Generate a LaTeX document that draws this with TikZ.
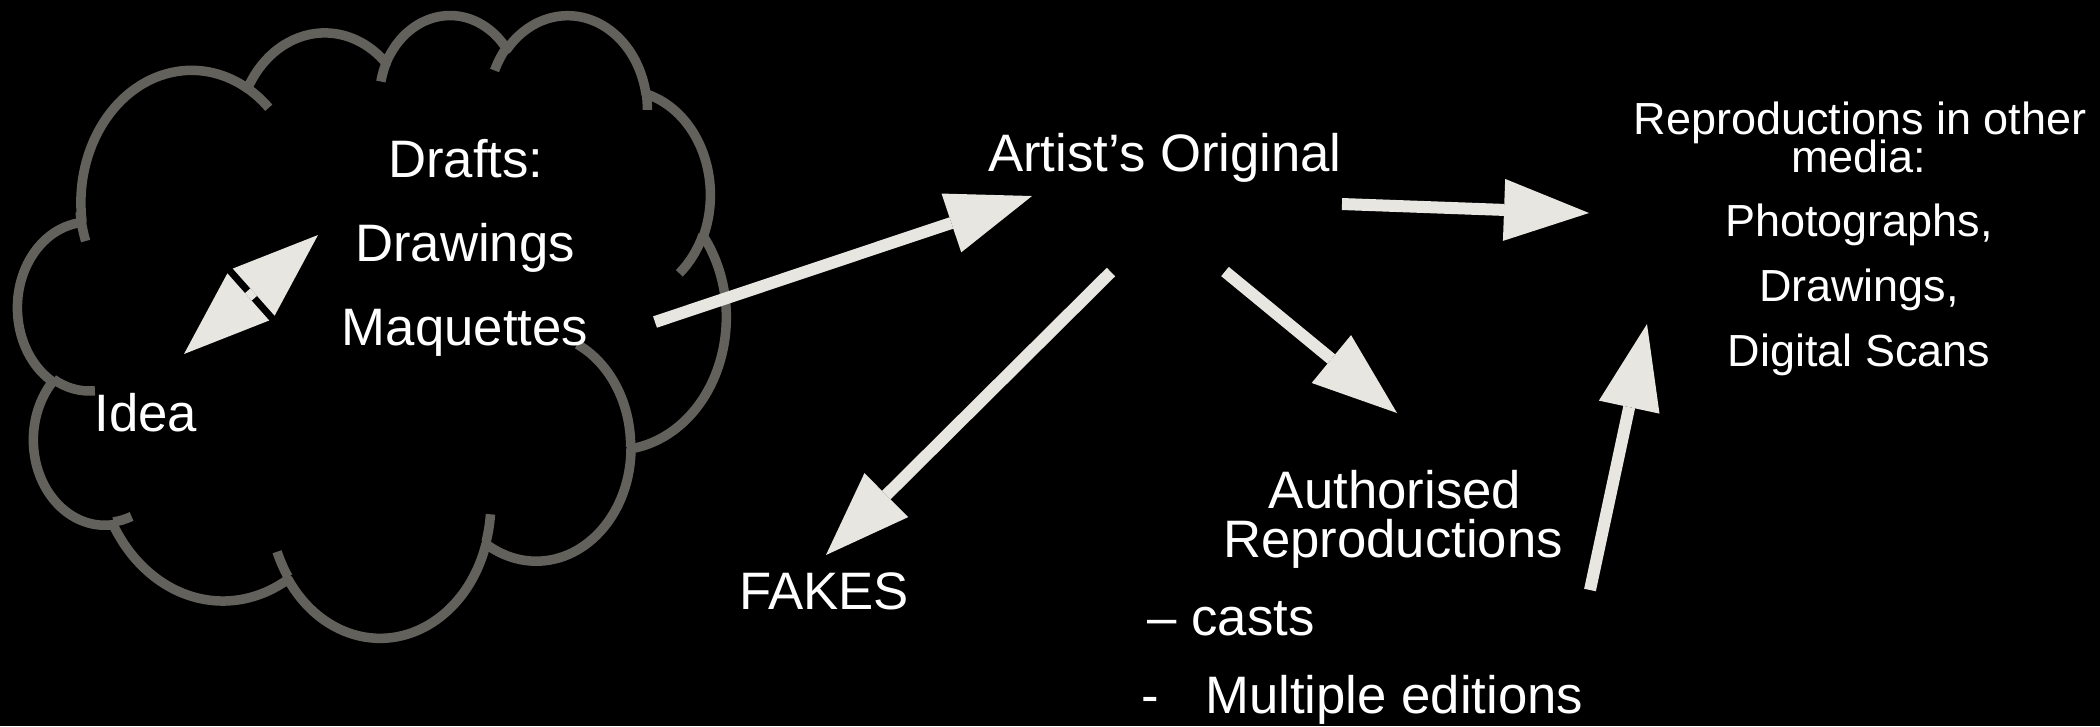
\documentclass[tikz,border=0pt]{standalone}
\usepackage{fontspec}
\setmainfont{Liberation Sans}
\usetikzlibrary{arrows.meta}

\definecolor{cloudgray}{RGB}{98,97,92}
\definecolor{arrowfill}{RGB}{232,230,224}

% one bump of the cloud: x radius, y radius, start angle, sweep
\newcommand{\cloudarc}[4]{arc[start angle={atan2(#1*sin(#3),#2*cos(#3))},
  end angle={atan2(#1*sin(#3),#2*cos(#3))+mod(atan2(#1*sin(#3+#4),#2*cos(#3+#4))-atan2(#1*sin(#3),#2*cos(#3))+720,360)},
  x radius=#1, y radius=#2]}

\begin{document}
\begin{tikzpicture}[
    every node/.style={
        text=white,
        inner sep=0pt,
        anchor=base,
        font=\fontsize{15}{18}\selectfont
    },
    small/.style={font=\fontsize{12.8}{15}\selectfont},
    cloudline/.style={draw=cloudgray, line width=0.095cm, line join=round},
    edge/.style={draw=arrowfill, line width=0.12cm,
        -{Triangle[length=0.85cm, width=0.62cm, line width=0pt]}},
    twoway/.style={draw=arrowfill, line width=0.10cm,
        {Triangle[length=0.86cm, width=0.63cm, line width=0pt]}-{Triangle[length=0.86cm, width=0.63cm, line width=0pt]}}
]

\fill[black] (0,0) rectangle (21,-7.26);
\useasboundingbox (0,0) rectangle (21,-7.26);

% cloud
\begin{scope}[shift={(0.18,-0.135)}, xscale=0.16389, yscale=-0.1441]
\draw[cloudline] (3.900,14.370)
    \cloudarc{6.753}{9.190}{-190.4875}{123.7805}
    \cloudarc{5.333}{7.267}{-144.1024}{89.9452}
    \cloudarc{4.365}{5.945}{-145.8079}{99.7230}
    \cloudarc{4.857}{6.595}{-130.9861}{117.2417}
    \cloudarc{5.333}{7.273}{-78.7089}{109.0269}
    \cloudarc{6.775}{9.220}{-46.2673}{130.2690}
    \cloudarc{5.785}{7.867}{0.6250}{114.0333}
    \cloudarc{6.752}{9.215}{22.4516}{115.1726}
    \cloudarc{7.720}{10.543}{66.2426}{75.7110}
    \cloudarc{4.360}{5.918}{-274.9421}{146.7356}
    \cloudarc{4.345}{5.945}{-246.8285}{152.5189}
    -- cycle;
\draw[cloudline]
    (4.693,26.177) \cloudarc{4.345}{5.945}{86.7420}{26.4295}
    (6.928,34.899) \cloudarc{4.360}{5.918}{73.6105}{11.4475}
    (16.478,39.090) \cloudarc{6.752}{9.215}{137.6242}{14.0811}
    (28.827,34.751) \cloudarc{6.752}{9.215}{6.4533}{15.9984}
    (34.129,22.954) \cloudarc{5.785}{7.867}{-70.2924}{70.9174}
    (41.798,15.354) \cloudarc{5.333}{7.273}{30.3180}{27.7515}
    (38.324,5.426) \cloudarc{4.857}{6.595}{-13.7443}{14.8589}
    (29.078,3.952) \cloudarc{4.857}{6.595}{-149.1815}{18.1954}
    (22.141,4.720) \cloudarc{4.365}{5.945}{-163.4943}{17.6864}
    (14.000,5.192) \cloudarc{6.753}{9.190}{-66.7070}{12.3194}
    (4.127,15.789) \cloudarc{6.753}{9.190}{154.6826}{16.7979};
\end{scope}

% texts
\node (drafts) at (4.66,-1.77) {Drafts:};
\node (drawings) at (4.65,-2.61) {Drawings};
\node (maquettes) at (4.65,-3.45) {Maquettes};
\node (idea) at (1.46,-4.31) {Idea};

\node (artist) at (11.65,-1.71) {Artist’s Original};
\node (fakes) at (8.24,-6.09) {FAKES};

\node (auth) at (13.95,-5.08) {Authorised};
\node (repro) at (13.93,-5.57) {Reproductions};
\node (casts) [anchor=base west] at (11.47,-6.35) {– casts};
\node (editions) [anchor=base west] at (11.41,-7.13) {-\hspace{0.46cm}Multiple editions};

\node (other1) [small] at (18.60,-1.34) {Reproductions in other};
\node (other2) [small] at (18.59,-1.72) {media:};
\node (photos) [small] at (18.59,-2.36) {Photographs,};
\node (drawn) [small] at (18.59,-3.01) {Drawings,};
\node (scans) [small] at (18.59,-3.66) {Digital Scans};

% arrow ends
\coordinate (idea-end) at (1.84,-3.54);
\coordinate (drafts-end) at (3.18,-2.35);
\coordinate (cloud-out) at (6.55,-3.22);
\coordinate (artist-in) at (10.32,-1.96);
\coordinate (artist-r) at (13.42,-2.04);
\coordinate (media-in) at (15.89,-2.13);
\coordinate (artist-l) at (11.11,-2.72);
\coordinate (fakes-in) at (8.26,-5.55);
\coordinate (artist-b) at (12.25,-2.715);
\coordinate (auth-in) at (13.97,-4.13);
\coordinate (repro-out) at (15.90,-5.90);
\coordinate (media-b) at (16.47,-3.24);

\draw[twoway] (idea-end) -- (drafts-end);
\draw[edge] (cloud-out) -- (artist-in);
\draw[edge] (artist-r) -- (media-in);
\draw[edge] (artist-l) -- (fakes-in);
\draw[edge] (artist-b) -- (auth-in);
\draw[edge] (repro-out) -- (media-b);

\end{tikzpicture}
\end{document}
